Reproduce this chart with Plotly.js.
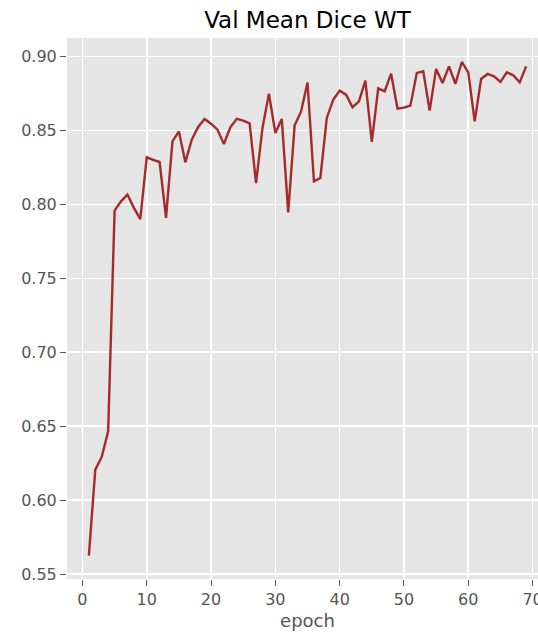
<!DOCTYPE html>
<html>
<head>
<meta charset="utf-8">
<script src="https://cdn.plot.ly/plotly-3.0.1.min.js"></script>
<style>
html, body { margin: 0; padding: 0; overflow: hidden; background: #ffffff; }
#chart { width: 560px; height: 634px; }
</style>
</head>
<body>
<div id="chart"></div>
<script>
const epochs = [1,2,3,4,5,6,7,8,9,10,11,12,13,14,15,16,17,18,19,20,21,22,23,24,25,26,27,28,29,30,31,32,33,34,35,36,37,38,39,40,41,42,43,44,45,46,47,48,49,50,51,52,53,54,55,56,57,58,59,60,61,62,63,64,65,66,67,68,69];
const valMeanDiceWT = [
  0.5626, 0.6207, 0.6293, 0.6466, 0.7957, 0.8020, 0.8066, 0.7976, 0.7900, 0.8318,
  0.8300, 0.8286, 0.7908, 0.8426, 0.8493, 0.8284, 0.8437, 0.8523, 0.8577, 0.8545,
  0.8505, 0.8408, 0.8520, 0.8578, 0.8565, 0.8547, 0.8144, 0.8516, 0.8748, 0.8482,
  0.8577, 0.7946, 0.8534, 0.8628, 0.8824, 0.8155, 0.8178, 0.8584, 0.8707, 0.8768,
  0.8741, 0.8656, 0.8696, 0.8836, 0.8422, 0.8784, 0.8764, 0.8883, 0.8647, 0.8653,
  0.8667, 0.8888, 0.8899, 0.8633, 0.8915, 0.8820, 0.8932, 0.8815, 0.8962, 0.8892,
  0.8561, 0.8847, 0.8881, 0.8865, 0.8827, 0.8892, 0.8872, 0.8824, 0.8932
];
const xTicks = [0, 10, 20, 30, 40, 50, 60, 70];
const yTicks = [0.55, 0.60, 0.65, 0.70, 0.75, 0.80, 0.85, 0.90];

const trace = {
  x: epochs,
  y: valMeanDiceWT,
  type: 'scatter',
  mode: 'lines',
  line: { color: '#a52a2a', width: 2.4 },
  hoverinfo: 'x+y'
};

const tickFont = { family: 'DejaVu Sans', size: 16, color: '#555555' };

const layout = {
  width: 560,
  height: 634,
  margin: { l: 67, r: 12, t: 38, b: 55 },
  paper_bgcolor: '#ffffff',
  plot_bgcolor: '#e5e5e5',
  showlegend: false,
  title: {
    text: 'Val Mean Dice WT',
    font: { family: 'DejaVu Sans', size: 23, color: '#000000' },
    x: 0.5, xref: 'paper', xanchor: 'center',
    y: 0.969, yref: 'container', yanchor: 'middle'
  },
  xaxis: {
    range: [-2.4, 72.4],
    tickvals: xTicks,
    ticktext: xTicks.map(String),
    ticks: 'outside', ticklen: 6, tickwidth: 1, tickcolor: '#555555',
    showgrid: true, gridcolor: '#ffffff', gridwidth: 1.6,
    zeroline: false, showline: false,
    tickfont: tickFont,
    title: { text: 'epoch', font: { family: 'DejaVu Sans', size: 18, color: '#555555' }, standoff: 6 }
  },
  yaxis: {
    range: [0.5468, 0.9124],
    tickvals: yTicks,
    ticktext: yTicks.map(v => v.toFixed(2)),
    ticks: 'outside', ticklen: 6, tickwidth: 1, tickcolor: '#555555',
    showgrid: true, gridcolor: '#ffffff', gridwidth: 1.6,
    zeroline: false, showline: false,
    tickfont: tickFont
  }
};

Plotly.newPlot('chart', [trace], layout, { displayModeBar: false, staticPlot: true });
</script>
</body>
</html>
